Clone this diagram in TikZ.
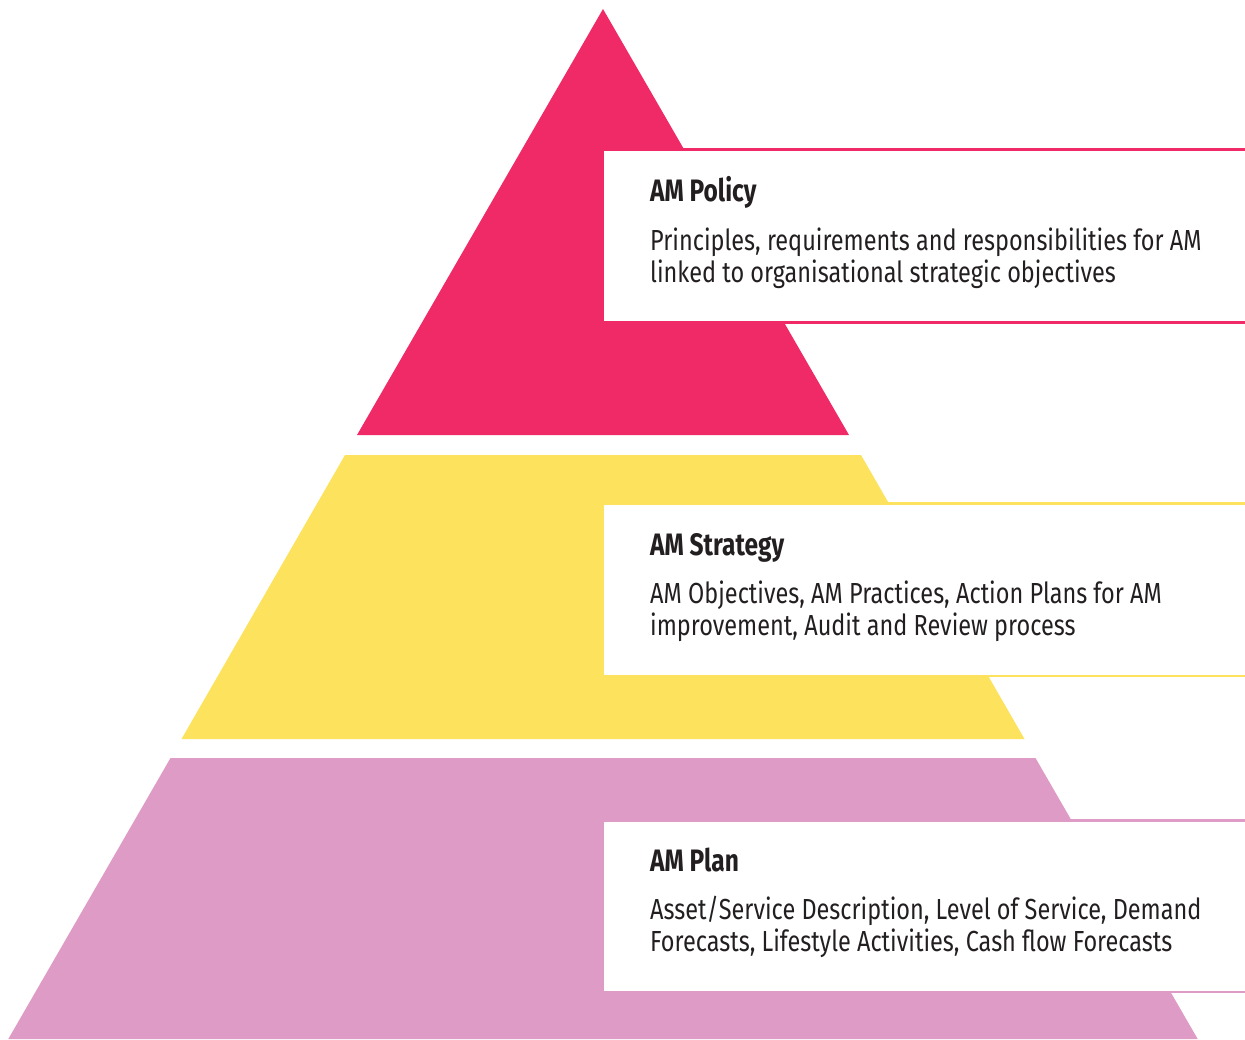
\documentclass[tikz,border=0pt]{standalone}
\usepackage{fontspec}
\setmainfont{Fira Sans}
\newfontfamily\bodyfont{Fira Sans}[FakeStretch=0.81]
\newfontfamily\headfont{Fira Sans}[FakeStretch=0.79,UprightFont=* Bold]
\definecolor{cpink}{HTML}{EF2A67}
\definecolor{cyellow}{HTML}{FDE25E}
\definecolor{clilac}{HTML}{DE9BC5}
\definecolor{ctext}{HTML}{231F20}
\tikzset{
  layer/.style={draw=none},
  infobox/.style={fill=white, draw=none},
  edge/.style={line width=2.5pt},
  head/.style={anchor=base west, inner sep=0pt, text=ctext, font=\headfont\fontsize{31}{31}\selectfont},
  body/.style={anchor=base west, inner sep=0pt, text=ctext, font=\bodyfont\fontsize{29}{32}\selectfont},
}
\begin{document}
\begin{tikzpicture}[x=1pt,y=-1pt]
\useasboundingbox (0,0) rectangle (1245,1039);
\clip (0,0) rectangle (1245,1039);
% pyramid layers
\fill[cpink, layer] (603,9) -- (849,435) -- (357,435) -- cycle;
\fill[cyellow, layer] (345,455) -- (861,455) -- (1024.5,739) -- (181.5,739) -- cycle;
\fill[clilac, layer] (170.5,758) -- (1035.5,758) -- (1197.7,1039) -- (8.3,1039) -- cycle;
% boxes
\fill[infobox] (604,149) rectangle (1260,323);
\draw[edge, cpink] (604,149.5) -- (1260,149.5);
\draw[edge, cpink] (604,322.5) -- (1260,322.5);
\fill[infobox] (604,503) rectangle (1260,676.5);
\draw[edge, cyellow] (604,503.5) -- (1260,503.5);
\draw[edge, cyellow] (604,676) -- (1260,676);
\fill[infobox] (604,820) rectangle (1260,992.5);
\draw[edge, clilac] (604,820.5) -- (1260,820.5);
\draw[edge, clilac] (604,992) -- (1260,992);
% texts
\node[head] (h1) at (650,201.7) {AM Policy};
\node[body] (b1a) at (650,250) {Principles, requirements and responsibilities for AM};
\node[body] (b1b) at (650,282) {linked to organisational strategic objectives};
\node[head] (h2) at (650,555.7) {AM Strategy};
\node[body] (b2a) at (650,603.5) {AM Objectives, AM Practices, Action Plans for AM};
\node[body] (b2b) at (650,635.5) {improvement, Audit and Review process};
\node[head] (h3) at (650,871.7) {AM Plan};
\node[body] (b3a) at (650,919) {Asset/Service Description, Level of Service, Demand};
\node[body] (b3b) at (650,951.5) {Forecasts, Lifestyle Activities, Cash flow Forecasts};
\end{tikzpicture}
\end{document}
